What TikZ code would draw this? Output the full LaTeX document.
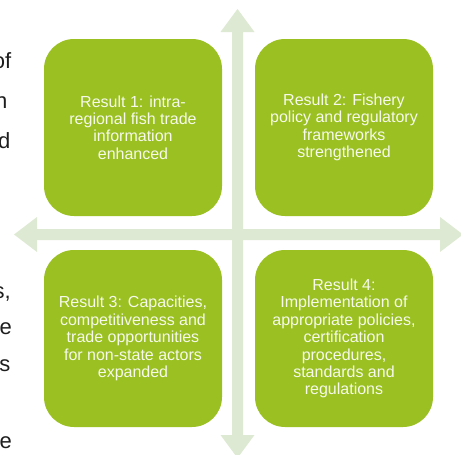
\documentclass[tikz,border=0pt]{standalone}
\usepackage{fontspec}
\setmainfont{Liberation Sans}
\definecolor{boxgreen}{RGB}{154,193,33}
\definecolor{arrowgreen}{RGB}{221,233,210}
\definecolor{boxtext}{RGB}{246,249,236}
\definecolor{sidetext}{RGB}{30,30,30}
\tikzset{
  resultbox/.style={draw=none, fill=boxgreen, rounded corners=30pt,
    minimum width=178pt, minimum height=177pt, inner sep=0pt,
    align=center, text=boxtext, font=\fontsize{16}{17.4}\selectfont},
  crossarrow/.style={fill=arrowgreen, draw=none},
  sidebit/.style={anchor=base east, inner sep=0pt, text=sidetext,
    font=\fontsize{22}{26}\selectfont}
}
\begin{document}
\begin{tikzpicture}[x=1pt,y=-1pt]
\useasboundingbox (0,0) rectangle (461,455);
\begin{scope}
\clip (0,0) rectangle (461,455);
% cross of double arrows
\coordinate (vtop) at (237.5,9);
\coordinate (vbot) at (237.5,458);
\coordinate (hleft) at (14,234.5);
\coordinate (hright) at (463,234.5);
\fill[crossarrow] (vtop) -- (254.5,32) -- (243,32) -- (243,435) -- (254.5,435)
  -- (vbot) -- (220.5,435) -- (232,435) -- (232,32) -- (220.5,32) -- cycle;
\fill[crossarrow] (hleft) -- (37,217) -- (37,229) -- (440,229) -- (440,217)
  -- (hright) -- (440,252) -- (440,240) -- (37,240) -- (37,252) -- cycle;
% cut-off text at the left edge
\node[sidebit] (s1) at (11.5,68) {of};
\node[sidebit] (s2) at (7.5,108) {n};
\node[sidebit] (s3) at (10.5,148) {d};
\node[sidebit] (s4) at (11,298) {s,};
\node[sidebit] (s5) at (12,334) {e};
\node[sidebit] (s6) at (10.5,371) {s};
\node[sidebit] (s7) at (12,448) {e};
\end{scope}
% result boxes
\node[resultbox] (r1) at (133,127.5) {Result 1: intra-\\regional fish trade\\information\\enhanced};
\node[resultbox] (r2) at (344,127.5) {Result 2: Fishery\\policy and regulatory\\frameworks\\strengthened};
\node[resultbox] (r3) at (133,338.5) {Result 3: Capacities,\\competitiveness and\\trade opportunities\\for non-state actors\\expanded};
\node[resultbox] (r4) at (344,338.5) {Result 4:\\Implementation of\\appropriate policies,\\certification\\procedures,\\standards and\\regulations};
\end{tikzpicture}
\end{document}
